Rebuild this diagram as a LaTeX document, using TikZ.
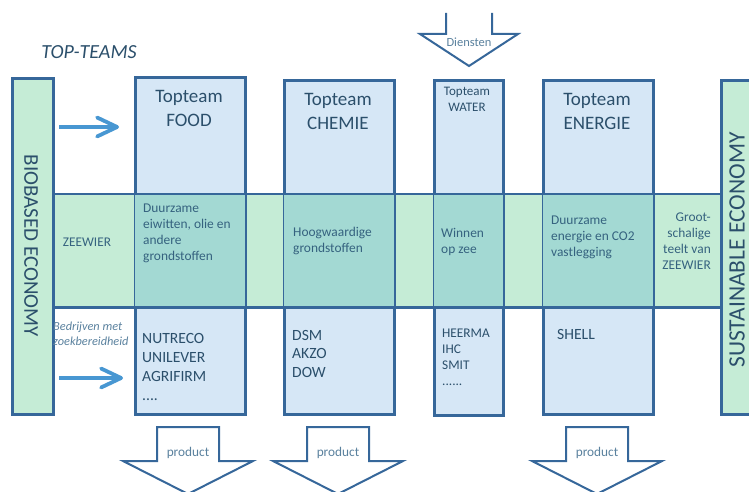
\documentclass[tikz,border=0pt]{standalone}
\usepackage{fontspec}
\setmainfont{Carlito}
\usetikzlibrary{arrows.meta}

\definecolor{edgeblue}{HTML}{36679A}
\definecolor{teamblue}{HTML}{D6E7F6}
\definecolor{bandgreen}{HTML}{C5ECD6}
\definecolor{mixgreen}{HTML}{A3D9D3}
\definecolor{arrowblue}{HTML}{4897D2}
\definecolor{txtdark}{HTML}{2B4F6B}
\definecolor{txtblue}{HTML}{35627F}
\definecolor{txtlight}{HTML}{5A819E}

\tikzset{
  teambox/.style={draw=edgeblue, line width=2.6pt, fill=teamblue, inner sep=0pt, anchor=north west},
  sidebar/.style={draw=edgeblue, line width=2.6pt, fill=bandgreen, inner sep=0pt, anchor=north west},
  edge/.style={draw=edgeblue, line width=2.6pt},
  title/.style={text=txtdark, align=center, inner sep=0pt, font=\fontsize{19}{24}\selectfont},
  bandtext/.style={text=txtblue, align=left, inner sep=0pt, anchor=north west, font=\fontsize{13.4}{16}\selectfont},
  firmtext/.style={text=txtdark, align=left, inner sep=0pt, anchor=north west, font=\fontsize{15.6}{19}\selectfont},
  smalltext/.style={text=txtblue, align=left, inner sep=0pt, font=\fontsize{13.3}{16}\selectfont},
  inflow/.style={draw=arrowblue, line width=3.8pt, -{Straight Barb[length=20pt,width=19pt,line cap=round,line join=round]}},
  fatarrow/.style={draw=edgeblue, line width=2pt, fill=white, line join=miter},
}

\begin{document}
\begin{tikzpicture}[x=1pt,y=-1pt]
\useasboundingbox (0,0) rectangle (749,492);

% green band across the teams
\node[inner sep=0pt, fill=bandgreen, anchor=north west, minimum width=668pt, minimum height=113pt] (band) at (52,194) {};

% top teams
\node[teambox, minimum width=110pt, minimum height=337pt] (food) at (134,76) {};
\node[teambox, minimum width=110pt, minimum height=334pt] (chem) at (283,79) {};
\node[teambox, minimum width=69pt, minimum height=335pt] (water) at (433,79) {};
\node[teambox, minimum width=110pt, minimum height=334pt] (energy) at (542,79) {};

\foreach \b in {food,chem,water,energy}
  \fill[mixgreen] ([xshift=1.3pt]\b.west |- band.north) rectangle ([xshift=-1.3pt]\b.east |- band.south);

% side bars
\node[sidebar, minimum width=41pt, minimum height=336pt] (bioeco) at (11,77) {};
\node[sidebar, minimum width=40pt, minimum height=334pt] (sustain) at (720,79) {};
\node[title, rotate=-90, font=\fontsize{21}{24}\selectfont] (biolabel) at (31,246) {BIOBASED ECONOMY};
\node[title, rotate=90, font=\fontsize{23.5}{24}\selectfont] (sustlabel) at (737,250) {SUSTAINABLE ECONOMY};

\draw[edge] (bioeco.east |- band.north) -- (sustain.west |- band.north);
\draw[edge] (bioeco.east |- band.south) -- (sustain.west |- band.south);

\node[title, font=\itshape\fontsize{20}{24}\selectfont] (topteams) at (89,52) {TOP-TEAMS};

% titles
\node[title] (foodtitle) at (189,108) {Topteam\\FOOD};
\node[title] (chemtitle) at (338,111) {Topteam\\CHEMIE};
\node[title, font=\fontsize{13}{16}\selectfont] (watertitle) at (467,99) {Topteam\\WATER};
\node[title] (energytitle) at (597,111) {Topteam\\ENERGIE};

% band texts
\node[smalltext] (zeewier) at (87,242) {ZEEWIER};
\node[bandtext] (foodband) at (143,204) {Duurzame\\eiwitten, olie en\\andere\\grondstoffen};
\node[bandtext] (chemband) at (293,227) {Hoogwaardige\\grondstoffen};
\node[bandtext] (waterband) at (441,228) {Winnen\\op zee};
\node[bandtext] (energyband) at (551,216) {Duurzame\\energie en CO2\\vastlegging};
\node[bandtext, anchor=north east, align=right] (teelt) at (711,213) {Groot-\\schalige\\teelt van\\ZEEWIER};

% companies
\node[smalltext, anchor=north west, text=txtlight, font=\itshape\fontsize{12.3}{15}\selectfont] (bedrijven) at (53,322) {Bedrijven met\\zoekbereidheid};
\node[firmtext] (foodfirms) at (142,333) {NUTRECO\\UNILEVER\\AGRIFIRM\\....};
\node[firmtext, font=\fontsize{15.6}{18.5}\selectfont] (chemfirms) at (292,330) {DSM\\AKZO\\DOW};
\node[firmtext, font=\fontsize{13.3}{16}\selectfont] (waterfirms) at (442,329) {HEERMA\\IHC\\SMIT\\......};
\node[firmtext] (energyfirms) at (557,329) {SHELL};

% inflow arrows
\coordinate (inA) at (59,127);
\coordinate (inAend) at (119,127);
\coordinate (inB) at (59,378);
\coordinate (inBend) at (123,378);
\draw[inflow] (inA) -- (inAend);
\draw[inflow] (inB) -- (inBend);

% diensten and products
\draw[fatarrow] (446,13) -- (446,34) -- (420,34) -- (469,66) -- (518,34) -- (492,34) -- (492,13);
\node[smalltext, text=txtlight, font=\fontsize{12.5}{15}\selectfont] (diensten) at (469,42) {Diensten};

\foreach \cx/\nm in {188/prodfood, 338/prodchem, 597/prodenergy} {
  \draw[fatarrow] (\cx-31,427) -- (\cx-31,461) -- (\cx-65,461) -- (\cx,494)
    -- (\cx+65,461) -- (\cx+31,461) -- (\cx+31,427) -- cycle;
  \node[smalltext, text=txtlight] (\nm) at (\cx,453) {product};
}

\end{tikzpicture}
\end{document}
